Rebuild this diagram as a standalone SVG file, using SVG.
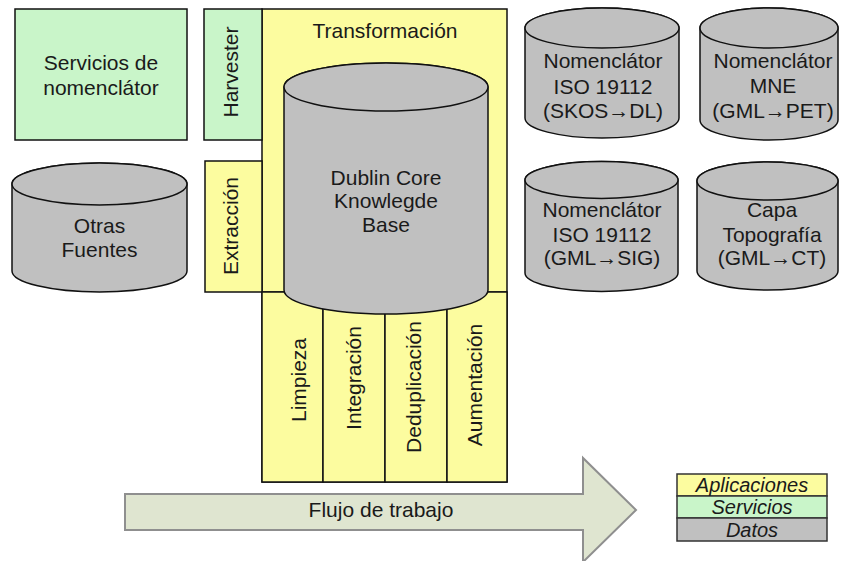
<svg xmlns="http://www.w3.org/2000/svg" width="841" height="561" viewBox="0 0 841 561">
<style>
text{font-family:"Liberation Sans",Arial,sans-serif;font-size:21px;fill:#1a1a1a;text-anchor:middle}
.app{fill:#fcfc9f;stroke:#111;stroke-width:1.5}
.srv{fill:#c9f5c9;stroke:#111;stroke-width:1.5}
.dat{fill:#c0c0c0;stroke:#111;stroke-width:1.5}
.ln{stroke:#111;stroke-width:1.5;fill:none}
.lg{font-style:italic;font-size:20px}
</style>
<rect width="841" height="561" fill="#ffffff"/>

<g id="servicios-nomenclator">
<rect class="srv" x="15" y="9" width="172" height="131"/>
<text x="101" y="70">Servicios de</text>
<text x="101" y="95">nomenclátor</text>
</g>

<g id="transformacion">
<rect class="app" x="262" y="9" width="245" height="473"/>
<text x="385" y="38" font-size="20">Transformación</text>
<line class="ln" x1="262" y1="292" x2="507" y2="292"/>
</g>

<g id="harvester">
<rect class="srv" x="204" y="9" width="58" height="131"/>
<text transform="translate(238,72) rotate(-90)" font-size="20">Harvester</text>
</g>

<g id="extraccion">
<rect class="app" x="205" y="161" width="57" height="131"/>
<text transform="translate(238,226) rotate(-90)" font-size="20">Extracción</text>
</g>

<g id="limpieza">
<rect class="app" x="262" y="292" width="61" height="190"/>
<text transform="translate(306,380) rotate(-90)">Limpieza</text>
</g>
<g id="integracion">
<rect class="app" x="323" y="292" width="62" height="190"/>
<text transform="translate(361,378) rotate(-90)">Integración</text>
</g>
<g id="deduplicacion">
<rect class="app" x="385" y="292" width="62" height="190"/>
<text transform="translate(421,387) rotate(-90)">Deduplicación</text>
</g>
<g id="aumentacion">
<rect class="app" x="447" y="292" width="60" height="190"/>
<text transform="translate(482,385) rotate(-90)">Aumentación</text>
</g>

<g id="dublin-core">
<path class="dat" d="M284,87 V290 A102,24 0 0 0 488,290 V87 A102,24 0 0 0 284,87 Z"/>
<ellipse class="dat" cx="386" cy="87" rx="102" ry="24"/>
<text x="386" y="185">Dublin Core</text>
<text x="386" y="208">Knowlegde</text>
<text x="386" y="232">Base</text>
</g>

<g id="otras-fuentes">
<path class="dat" d="M12,184 V271 A87.5,21 0 0 0 187,271 V184 A87.5,21 0 0 0 12,184 Z"/>
<ellipse class="dat" cx="99.5" cy="184" rx="87.5" ry="21"/>
<text x="99.5" y="233" font-size="20">Otras</text>
<text x="99.5" y="257" font-size="20">Fuentes</text>
</g>

<g id="nomenclator-skos">
<path class="dat" d="M525,28 V118 A77,20 0 0 0 679,118 V28 A77,20 0 0 0 525,28 Z"/>
<ellipse class="dat" cx="602" cy="28" rx="77" ry="20"/>
<text x="603" y="68">Nomenclátor</text>
<text x="603" y="94">ISO 19112</text>
<text x="603" y="118">(SKOS→DL)</text>
</g>

<g id="nomenclator-mne">
<path class="dat" d="M700,28 V120 A69,20 0 0 0 838,120 V28 A69,20 0 0 0 700,28 Z"/>
<ellipse class="dat" cx="769" cy="28" rx="69" ry="20"/>
<text x="773" y="68">Nomenclátor</text>
<text x="773" y="93">MNE</text>
<text x="773" y="118">(GML→PET)</text>
</g>

<g id="nomenclator-gml">
<path class="dat" d="M525,180 V273 A76.5,18.5 0 0 0 678,273 V180 A76.5,18.5 0 0 0 525,180 Z"/>
<ellipse class="dat" cx="601.5" cy="180" rx="76.5" ry="18.5"/>
<text x="602" y="217">Nomenclátor</text>
<text x="602" y="242">ISO 19112</text>
<text x="602" y="265">(GML→SIG)</text>
</g>

<g id="capa-topografia">
<path class="dat" d="M697,181 V271 A70.5,19 0 0 0 838,271 V181 A70.5,19 0 0 0 697,181 Z"/>
<ellipse class="dat" cx="767.5" cy="181" rx="70.5" ry="19"/>
<text x="772" y="217">Capa</text>
<text x="772" y="242">Topografía</text>
<text x="772" y="265">(GML→CT)</text>
</g>

<g id="connectors">
<g id="flujo-de-trabajo">
<path d="M125,494 L583,494 L583,458 L636,510 L583,562 L583,530 L125,530 Z" fill="#dfe5d0" stroke="#8f8f8f" stroke-width="2"/>
<text x="381" y="517">Flujo de trabajo</text>
</g>
</g>

<g id="leyenda">
<rect x="677" y="474" width="150" height="22" fill="#fcfc9f" stroke="#333" stroke-width="1.5"/>
<rect x="677" y="496" width="150" height="22" fill="#c9f5c9" stroke="#333" stroke-width="1.5"/>
<rect x="677" y="518" width="150" height="23" fill="#c0c0c0" stroke="#333" stroke-width="1.5"/>
<text class="lg" x="752" y="492">Aplicaciones</text>
<text class="lg" x="752" y="514">Servicios</text>
<text class="lg" x="752" y="537">Datos</text>
</g>
</svg>
